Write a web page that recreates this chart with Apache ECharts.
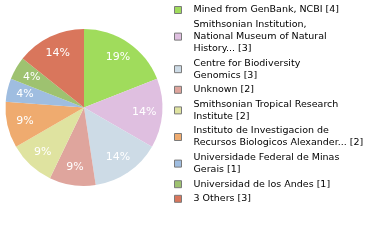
<!DOCTYPE html>
<html>
<head>
<meta charset="utf-8">
<script src="https://cdn.jsdelivr.net/npm/echarts@6/dist/echarts.min.js"></script>
<style>
html,body{margin:0;padding:0;background:#fff;}
#chart{width:380px;height:240px;}
</style>
</head>
<body>
<div id="chart"></div>
<script>
const names = [
  "Mined from GenBank, NCBI",
  "Smithsonian Institution, National Museum of Natural History...",
  "Centre for Biodiversity Genomics",
  "Unknown",
  "Smithsonian Tropical Research Institute",
  "Instituto de Investigacion de Recursos Biologicos Alexander...",
  "Universidade Federal de Minas Gerais",
  "Universidad de los Andes",
  "3 Others"
];
const legendLines = [
  "Mined from GenBank, NCBI",
  "Smithsonian Institution,\nNational Museum of Natural\nHistory...",
  "Centre for Biodiversity\nGenomics",
  "Unknown",
  "Smithsonian Tropical Research\nInstitute",
  "Instituto de Investigacion de\nRecursos Biologicos Alexander...",
  "Universidade Federal de Minas\nGerais",
  "Universidad de los Andes",
  "3 Others"
];
const values = [4, 3, 3, 2, 2, 2, 1, 1, 3];
const colors = ["#a0dc5c", "#dfbfe0", "#cddbe6", "#dfa59d", "#dfe3a0", "#efab6f", "#9fbde0", "#9ec270", "#d9765c"];

const total = values.reduce((a, b) => a + b, 0);
const data = names.map((n, i) => ({ name: n, value: values[i], itemStyle: { color: colors[i] } }));
const overlayData = names.map((n, i) => ({ name: n, value: values[i], itemStyle: { color: 'rgba(0,0,0,0)' } }));

const chart = echarts.init(document.getElementById('chart'), null, { renderer: 'canvas' });
chart.setOption({
  animation: false,
  legend: {
    orient: 'vertical',
    left: 174,
    top: 4,
    padding: 0,
    itemGap: 2.6,
    itemWidth: 7,
    itemHeight: 7,
    icon: 'rect',
    itemStyle: { borderColor: '#7a7a7a', borderWidth: 1 },
    data: names,
    formatter: function (name) {
      const i = names.indexOf(name);
      return legendLines[i] + ' [' + values[i] + ']';
    },
    textStyle: {
      fontFamily: 'DejaVu Sans',
      fontSize: 9.5,
      lineHeight: 12,
      color: '#000',
      padding: [0, 0, 0, 7]
    },
    selectedMode: false
  },
  series: [
    {
      type: 'pie',
      center: [84, 107.5],
      radius: [0, 78.5],
      startAngle: 90,
      clockwise: true,
      data: data,
      label: { show: false },
      labelLine: { show: false },
      itemStyle: { borderWidth: 0 },
      emphasis: { disabled: true }
    },
    {
      type: 'pie',
      center: [84, 107.5],
      radius: [0, 115],
      startAngle: 90,
      clockwise: true,
      silent: true,
      data: overlayData,
      legendHoverLink: false,
      label: {
        show: true,
        position: 'inside',
        color: '#fff',
        fontFamily: 'DejaVu Sans',
        fontSize: 11,
        formatter: function (p) { return Math.floor(p.value / total * 100) + '%'; }
      },
      labelLine: { show: false },
      itemStyle: { borderWidth: 0 },
      emphasis: { disabled: true }
    }
  ]
});
</script>
</body>
</html>
